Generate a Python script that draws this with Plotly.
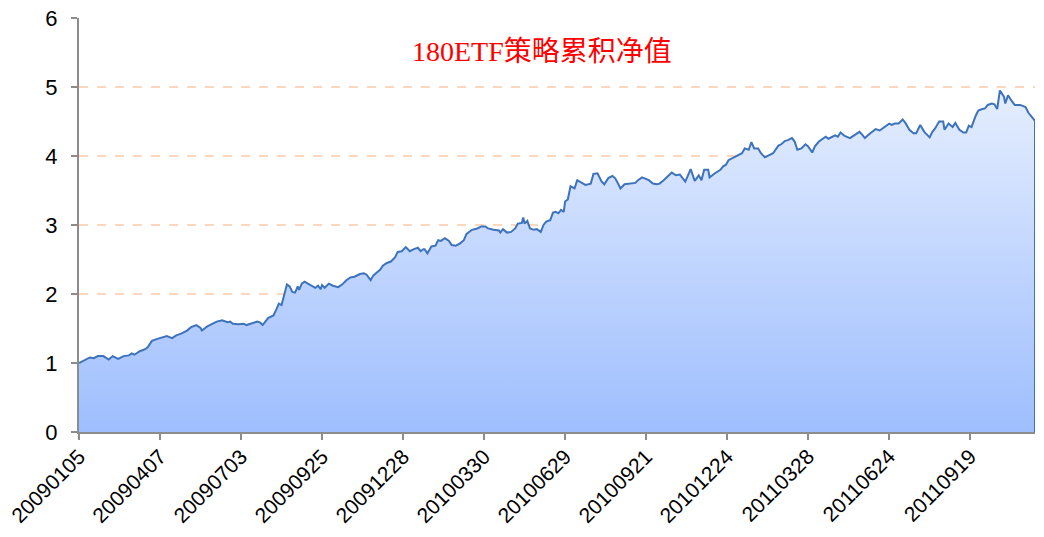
import plotly.graph_objects as go

# trading-day index (0 = 20090105) and cumulative NAV
day = [0, 2, 4, 8, 11, 14, 18, 22, 25, 29, 33, 37, 39, 41, 45, 49, 51, 54, 58, 61,
       65, 69, 72, 76, 80, 83, 87, 90, 91, 95, 98, 102, 106, 110, 112, 114, 118, 122, 124, 128,
       132, 134, 136,
       140, 144, 146, 148, 150, 152, 154, 156, 158, 160, 162, 163, 165, 167, 171, 175, 177, 179, 180,
       182, 185, 188, 192, 195, 198, 201, 204, 208, 211, 213, 216, 218, 221, 223, 225, 228, 231, 234,
       236, 239, 242, 245, 248, 251, 253, 255, 256, 258, 261, 264, 266, 268, 271, 274, 276,
       279, 282, 285, 287, 291, 295, 298, 301, 303, 307, 311, 312, 314, 317, 320, 323, 325, 328, 329,
       330, 332, 334, 337, 339, 342, 344, 346, 349, 351, 353, 355, 357, 359, 360, 362, 364, 367, 369,
       372, 375, 379, 381, 384, 387, 389, 392, 395, 397, 399, 401, 404, 408, 412, 414, 417,
       422, 425, 428, 430, 433, 436, 439, 442, 445, 449, 453, 456, 459, 461, 463, 466, 467, 471, 475,
       477, 479, 481, 484, 487, 491, 493, 496, 498, 500, 503, 505, 508, 511, 514, 518, 520, 523, 525,
       528, 530, 532, 535, 538, 540, 543, 545, 548, 551, 553, 555, 557,
       560, 562, 564, 567, 571, 574, 578, 580, 582, 586, 590, 593, 597, 600, 602, 604, 607, 610, 612,
       615, 618, 620, 623, 626, 630, 632, 634, 637, 640, 641, 644, 647, 649, 652, 655, 657, 659, 661,
       664, 666, 669, 671, 673, 676, 678, 680, 682, 685, 686, 688, 691, 693, 697, 701, 703, 706, 708]
nav = [1.00, 1.02, 1.05, 1.08, 1.07, 1.10, 1.10, 1.05, 1.10, 1.06, 1.10, 1.11, 1.14, 1.12, 1.17, 1.20, 1.23, 1.32, 1.35, 1.37,
       1.39, 1.36, 1.40, 1.43, 1.47, 1.52, 1.55, 1.51, 1.47, 1.53, 1.56, 1.60, 1.62, 1.59, 1.60, 1.57, 1.56, 1.57, 1.55, 1.58,
       1.60, 1.59, 1.55,
       1.65, 1.69, 1.77, 1.86, 1.84, 1.99, 2.14, 2.11, 2.03, 2.02, 2.11, 2.06, 2.15, 2.18, 2.13, 2.09, 2.12, 2.07, 2.13,
       2.09, 2.15, 2.12, 2.10, 2.14, 2.20, 2.24, 2.25, 2.29, 2.30, 2.28, 2.20, 2.27, 2.32, 2.35, 2.41, 2.45, 2.47, 2.53,
       2.61, 2.62, 2.68, 2.62, 2.65, 2.67, 2.62, 2.65, 2.65, 2.59, 2.69, 2.70, 2.78, 2.77, 2.81, 2.77, 2.71,
       2.70, 2.73, 2.78, 2.87, 2.93, 2.95, 2.98, 2.98, 2.95, 2.93, 2.92, 2.89, 2.94, 2.89, 2.90, 2.95, 3.02, 3.03, 3.11,
       3.02, 3.06, 2.95, 2.93, 2.94, 2.90, 3.00, 3.05, 3.07, 3.18, 3.19, 3.17, 3.22, 3.19, 3.34, 3.37, 3.56, 3.53, 3.65,
       3.61, 3.58, 3.60, 3.74, 3.75, 3.63, 3.59, 3.68, 3.71, 3.68, 3.61, 3.53, 3.59, 3.60, 3.61, 3.65, 3.69,
       3.65, 3.60, 3.59, 3.60, 3.65, 3.70, 3.76, 3.72, 3.73, 3.63, 3.81, 3.64, 3.72, 3.65, 3.80, 3.80, 3.69, 3.75, 3.80,
       3.85, 3.87, 3.94, 3.97, 4.00, 4.04, 4.11, 4.09, 4.20, 4.11, 4.11, 4.04, 3.98, 4.01, 4.04, 4.15, 4.17, 4.22, 4.23,
       4.26, 4.21, 4.09, 4.11, 4.17, 4.14, 4.05, 4.14, 4.21, 4.25, 4.28, 4.25, 4.27,
       4.30, 4.28, 4.34, 4.29, 4.26, 4.30, 4.35, 4.31, 4.26, 4.33, 4.39, 4.37, 4.42, 4.47, 4.45, 4.47, 4.47, 4.53, 4.48,
       4.38, 4.33, 4.33, 4.45, 4.35, 4.27, 4.35, 4.40, 4.50, 4.50, 4.38, 4.47, 4.42, 4.48, 4.38, 4.34, 4.34, 4.44, 4.42,
       4.58, 4.66, 4.68, 4.69, 4.74, 4.76, 4.75, 4.68, 4.95, 4.86, 4.76, 4.88, 4.79, 4.74, 4.74, 4.71, 4.63, 4.55, 4.51]

tick_days = [0, 60, 120, 180, 240, 300, 360, 420, 480, 540, 600, 660]
tick_labels = ["20090105", "20090407", "20090703", "20090925", "20091228", "20100330",
               "20100629", "20100921", "20101224", "20110328", "20110624", "20110919"]
title_text = "180ETF策略累积净值"

line_color = "#3d72bd"

fig = go.Figure()
fig.add_trace(go.Scatter(
    x=day, y=nav, mode="lines",
    line=dict(color=line_color, width=2),
    fill="tozeroy",
    fillgradient=dict(type="vertical", start=0, stop=5.0,
                      colorscale=[[0, "#9ebefe"], [1, "#e5eefe"]]),
    showlegend=False, hoverinfo="skip",
))
# closing edge of the area at the last observation
fig.add_shape(type="line", xref="x", yref="y", x0=day[-1], x1=day[-1], y0=0, y1=nav[-1],
              line=dict(color=line_color, width=2))

fig.update_xaxes(
    range=[0, day[-1]], tickmode="array", tickvals=tick_days, ticktext=tick_labels,
    tickangle=-45, ticks="outside", ticklen=6, tickcolor="#8c8c8c", tickwidth=1.5,
    showline=True, linecolor="#8c8c8c", linewidth=2, showgrid=False, zeroline=False,
    tickfont=dict(family="Liberation Sans, Arial, sans-serif", size=21, color="#000000"),
    automargin=False, ticklabeloverflow="allow", ticklabelstandoff=-4,
)
fig.update_yaxes(
    range=[0, 6], tickvals=[0, 1, 2, 3, 4, 5, 6], ticks="outside", ticklen=6,
    tickcolor="#8c8c8c", tickwidth=1.5, showline=True, linecolor="#8c8c8c", linewidth=2,
    showgrid=True, gridcolor="#fcd6bd", griddash="dash", gridwidth=1.8, zeroline=False,
    tickfont=dict(family="Liberation Sans, Arial, sans-serif", size=22, color="#000000"),
    automargin=False, ticklabeloverflow="allow", ticklabelstandoff=9,
)
fig.add_annotation(
    text=title_text, xref="paper", yref="paper", x=0.484, y=0.918,
    showarrow=False, xanchor="center", yanchor="middle",
    font=dict(family="Liberation Serif, Noto Sans CJK SC, serif", size=28, color="#ff0000"),
)
fig.update_layout(
    width=1036, height=529,
    margin=dict(l=71, r=9, t=10, b=105),
    paper_bgcolor="#ffffff", plot_bgcolor="#ffffff",
)
fig.write_html("out.html")
